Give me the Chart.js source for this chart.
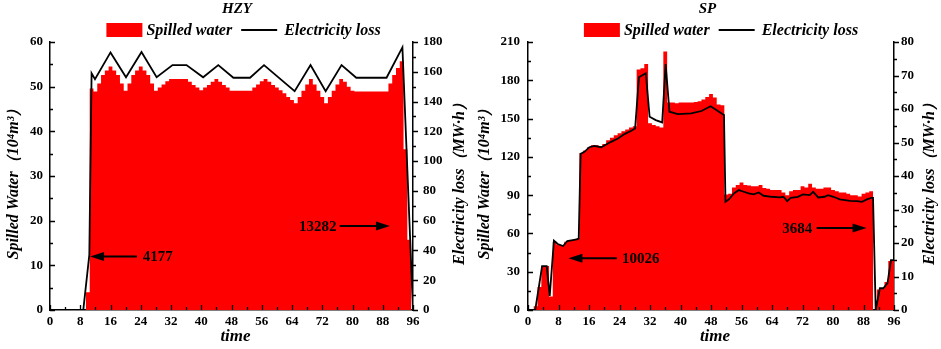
<!DOCTYPE html>
<html><head><meta charset="utf-8">
<script src="https://cdn.jsdelivr.net/npm/chart.js@4.4.0/dist/chart.umd.min.js"></script>
<style>
html,body{margin:0;padding:0;background:#fff;}
#wrap{position:relative;width:941px;height:349px;background:#fff;}
canvas{position:absolute;top:0;}
</style></head><body>
<div id="wrap"><canvas id="c1" width="470" height="349" style="left:0"></canvas><canvas id="c2" width="471" height="349" style="left:470px"></canvas></div>
<script>
// ---------- data ----------
const timeSteps = [0,1,2,3,4,5,6,7,8,9,10,11,12,13,14,15,16,17,18,19,20,21,22,23,24,25,26,27,28,29,30,31,32,33,34,35,36,37,38,39,40,41,42,43,44,45,46,47,48,49,50,51,52,53,54,55,56,57,58,59,60,61,62,63,64,65,66,67,68,69,70,71,72,73,74,75,76,77,78,79,80,81,82,83,84,85,86,87,88,89,90,91,92,93,94,95,96];
const xTickValues = [0,8,16,24,32,40,48,56,64,72,80,88,96];

// HZY spilled water (10^4 m^3), one value per time step
const hzySpill = [
  0,0,0,0,0,0,0,0,0,0,
  4,49.6,48.9,50.7,52.6,53.6,54.5,53.6,52.6,50.7,
  49.1,50.7,52.6,53.6,54.5,53.6,52.6,50.7,49.1,49.8,
  50.5,51.2,51.7,51.7,51.7,51.7,51.7,51.1,50.4,49.8,
  49.2,49.8,50.4,51.1,51.7,51.1,50.4,49.8,49.1,49.1,
  49.1,49.1,49.1,49.1,49.8,50.5,51.2,51.7,51.1,50.4,
  49.8,49.2,48.5,47.7,47.0,46.3,47.7,49.1,50.5,51.7,
  50.5,49.1,47.7,46.3,47.7,49.1,50.5,51.7,51.1,50.0,
  49.1,48.9,48.9,48.9,48.9,48.9,48.9,48.9,48.9,48.9,
  50.7,52.6,54.2,55.7,36,15.7,0
];
// HZY electricity loss (MW·h) at its break points
const hzyLossTime = [0,8.8,10.4,11,11.9,16,20.1,24.2,28.2,32.4,36.1,40.5,44.5,48.5,52.9,56.6,64.7,68.9,72.9,77.1,81,89,93.2,96];
const hzyLoss     = [0,0,37,159,155,173,156.3,173.3,156.3,164.5,164.5,156.3,164.5,156,156,164.5,147,164.5,147,164.5,156,156,176.4,0];
const hzyLeftTicks  = [0,10,20,30,40,50,60];
const hzyRightTicks = [0,20,40,60,80,100,120,140,160,180];

// SP spilled water (10^4 m^3)
const spSpill = [
  0,0,3,18,34.5,34.5,10.5,53.5,51.2,50.4,
  53.5,54.9,54.9,56,123,125,127.5,129,129,128.5,
  130,133,135,137,138.5,140,141.5,143,144,188.5,
  189.5,192.8,146.3,145,144,143,202.5,162.5,162.5,162,
  162.5,162.5,162.5,162.5,163,163.5,165,167,169.3,166.5,
  161,160.5,90.5,91,96,98,100,98,97.5,97,
  97,98,95.5,95,94,94,94,92,90,93,
  94,94,97,96,99,96,95,95,96,96,
  94,93,92,92,91,90,90,89,91,92,
  93,0,16,17,22,38.4,38.4
];
// SP electricity loss (MW·h) at its break points
const spLossTime = [0,1.9,3.7,4.9,5.7,6.8,7.8,9.2,10.3,12.8,13.3,13.8,14.8,16.1,17.4,19.2,20.5,21.8,23.6,25.3,27.1,28.1,29.1,30.9,31.9,33.5,35.2,36.1,37.1,39.3,42.8,45.5,47.9,51.4,51.8,52.7,54,55.3,56.6,57.9,59.2,60.5,61.8,63.9,66.1,67,68,68.9,70.8,72.1,73.9,74.8,76.1,77.8,78.7,80.1,81.8,84.5,86.3,87.6,88.9,90.1,90.5,91.2,92.3,93.2,94.3,95.2,96];
const spLoss     = [0,0,13.1,13.1,4.2,20.7,19.7,19.1,20.6,21.1,21.3,46.6,47.2,48.6,49.0,48.6,49.4,50.2,51.2,52.5,53.5,54.2,69.5,70.7,57.7,56.7,56.0,73.4,59.2,58.5,58.7,59.4,60.8,58.2,32.3,33.0,34.8,35.8,35.3,34.8,34.5,35.1,34.1,33.8,33.6,33.8,32.5,33.5,33.8,34.5,34.3,35.3,33.6,33.8,34.3,33.8,33.0,32.6,32.5,32.3,33.0,33.5,33.5,0,6.5,6.5,8.0,14.9,14.9];
const spLeftTicks  = [0,30,60,90,120,150,180,210];
const spRightTicks = [0,10,20,30,40,50,60,70,80];

const seriesNames = ['Spilled water','Electricity loss'];
const hzyTotals = ['4177','13282'];
const spTotals  = ['10026','3684'];

// ---------- drawing ----------
const SERIF = '"Liberation Serif","Times New Roman",serif';
const tickFont = {family: SERIF, size: 13, weight: 'bold'};

const decoPlugin = {
  id: 'deco',
  afterDraw(chart, args, o) {
    const ctx = chart.ctx, ca = chart.chartArea;
    const sx = chart.scales.x, sy = chart.scales.y, sr = chart.scales.y1;
    ctx.save();
    ctx.strokeStyle = '#000'; ctx.fillStyle = '#000'; ctx.lineWidth = 1.3;
    // tick marks (major + minor)
    const marks = (ticks, cb) => {
      for (let i = 0; i < ticks.length; i++) {
        cb(ticks[i], 5);
        if (i < ticks.length - 1) cb((ticks[i] + ticks[i+1]) / 2, 3);
      }
    };
    ctx.beginPath();
    marks(xTickValues, (v, l) => { const p = Math.round(sx.getPixelForValue(v)) + 0.5; ctx.moveTo(p, ca.bottom); ctx.lineTo(p, ca.bottom - l); });
    marks(o.leftTicks, (v, l) => { const p = Math.round(sy.getPixelForValue(v)) + 0.5; ctx.moveTo(ca.left, p); ctx.lineTo(ca.left + l, p); });
    marks(o.rightTicks, (v, l) => { const p = Math.round(sr.getPixelForValue(v)) + 0.5; ctx.moveTo(ca.right, p); ctx.lineTo(ca.right + l, p); });
    ctx.stroke();

    // title
    ctx.textAlign = 'center'; ctx.textBaseline = 'middle';
    ctx.font = 'bold italic 15px ' + SERIF;
    ctx.fillText(o.title, chart.width / 2 + o.titleShift, 9);

    // legend
    ctx.font = 'bold italic 16px ' + SERIF;
    const w1 = ctx.measureText(seriesNames[0]).width, w2 = ctx.measureText(seriesNames[1]).width;
    const total = 36 + 4 + w1 + 9 + 36 + 7 + w2;
    let lx = (ca.left + ca.right) / 2 + o.legendShift - total / 2;
    const ly = 30;
    ctx.fillStyle = '#ff0000'; ctx.fillRect(lx, ly - 7, 36, 14);
    ctx.fillStyle = '#000'; ctx.textAlign = 'left';
    lx += 40; ctx.fillText(seriesNames[0], lx, ly + 1);
    lx += w1 + 9;
    ctx.lineWidth = 1.8; ctx.beginPath(); ctx.moveTo(lx, ly); ctx.lineTo(lx + 36, ly); ctx.stroke();
    lx += 43; ctx.fillText(seriesNames[1], lx, ly + 1);

    // axis titles
    ctx.textAlign = 'center';
    const midY = (ca.top + ca.bottom) / 2 + 4;
    ctx.save(); ctx.translate(o.leftTitleX, midY); ctx.rotate(-Math.PI / 2);
    ctx.fillText('Spilled Water（10⁴m³）', 0, 0); ctx.restore();
    ctx.save(); ctx.translate(o.rightTitleX, midY); ctx.rotate(-Math.PI / 2);
    ctx.fillText('Electricity loss（MW·h）', 0, 0); ctx.restore();
    ctx.font = 'bold italic 17px ' + SERIF;
    ctx.fillText('time', (ca.left + ca.right) / 2 + 4, 337);

    // totals with arrows
    ctx.font = 'bold 15px ' + SERIF;
    ctx.lineWidth = 2;
    o.notes.forEach(n => {
      const tx = sx.getPixelForValue(n.at[0]), ty = sy.getPixelForValue(n.at[1]);
      ctx.fillText(n.label, tx, ty + 1);
      const x0 = sx.getPixelForValue(n.from), x1 = sx.getPixelForValue(n.to), yy = sy.getPixelForValue(n.at[1]);
      const dir = Math.sign(x1 - x0);
      ctx.beginPath(); ctx.moveTo(x0, yy); ctx.lineTo(x1 - dir * 10, yy); ctx.stroke();
      ctx.beginPath(); ctx.moveTo(x1, yy); ctx.lineTo(x1 - dir * 14, yy - 4.5); ctx.lineTo(x1 - dir * 14, yy + 4.5); ctx.closePath(); ctx.fill();
    });
    ctx.restore();
  }
};

function makeChart(id, spill, lossT, loss, lTicks, rTicks, dims, deco) {
  const yScale = (ticks, pos, width, pad) => ({
    type: 'linear', position: pos, min: ticks[0], max: ticks[ticks.length - 1],
    afterBuildTicks: s => { s.ticks = ticks.map(v => ({value: v})); },
    afterFit: s => { s.width = width; },
    ticks: {font: tickFont, color: '#000', padding: pad, autoSkip: false},
    grid: {display: false, drawTicks: false},
    border: {display: true, color: '#000', width: 1.5}
  });
  return new Chart(document.getElementById(id), {
    type: 'line',
    data: {datasets: [
      {label: seriesNames[1], yAxisID: 'y1', order: 0,
       data: lossT.map((t, i) => ({x: t, y: loss[i]})),
       borderColor: '#000', borderWidth: 1.8, pointRadius: 0, tension: 0, fill: false},
      {label: seriesNames[0], yAxisID: 'y', order: 1,
       data: timeSteps.map((t, i) => ({x: t, y: spill[i]})),
       stepped: 'middle', fill: 'origin', backgroundColor: '#ff0000',
       borderColor: 'rgba(255,0,0,0)', borderWidth: 0, pointRadius: 0}
    ]},
    options: {
      responsive: false, animation: false, devicePixelRatio: 1,
      layout: {padding: {top: 42, left: 0, right: 0, bottom: 0}},
      plugins: {legend: {display: false}, tooltip: {enabled: false}, deco: deco},
      scales: {
        x: {type: 'linear', min: 0, max: 96,
            afterBuildTicks: s => { s.ticks = xTickValues.map(v => ({value: v})); },
            afterFit: s => { s.height = 39; },
            ticks: {font: tickFont, color: '#000', padding: 4, maxRotation: 0, autoSkip: false},
            grid: {display: false, drawTicks: false},
            border: {display: true, color: '#000', width: 1.5}},
        y: yScale(lTicks, 'left', dims[0], dims[2]),
        y1: yScale(rTicks, 'right', dims[1], dims[3])
      }
    },
    plugins: [decoPlugin]
  });
}

makeChart('c1', hzySpill, hzyLossTime, hzyLoss, hzyLeftTicks, hzyRightTicks, [50, 57, 7, 10], {
  title: 'HZY', titleShift: 2, legendShift: 12, leftTitleX: 14, rightTitleX: 460,
  leftTicks: hzyLeftTicks, rightTicks: hzyRightTicks,
  notes: [
    {label: hzyTotals[0], at: [28.5, 12], from: 23, to: 10.6},
    {label: hzyTotals[1], at: [70.8, 18.8], from: 76.6, to: 89.9}
  ]
});
makeChart('c2', spSpill, spLossTime, spLoss, spLeftTicks, spRightTicks, [58, 47, 8, 7], {
  title: 'SP', titleShift: 2, legendShift: 10, leftTitleX: 15, rightTitleX: 460,
  leftTicks: spLeftTicks, rightTicks: spRightTicks,
  notes: [
    {label: spTotals[0], at: [29.6, 40.5], from: 23.3, to: 10.6},
    {label: spTotals[1], at: [70.6, 64.3], from: 75.7, to: 88.8}
  ]
});
</script>
</body></html>
